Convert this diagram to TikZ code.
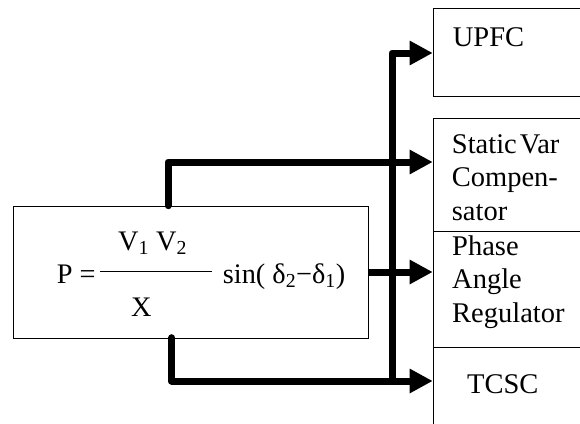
\documentclass[tikz,border=0pt]{standalone}
\usepackage{fontspec}
\setmainfont{Liberation Serif}
\usetikzlibrary{arrows.meta}
\tikzset{
  box/.style={draw, line width=1.1pt, rectangle, inner sep=0pt, anchor=north west},
  lbl/.style={inner sep=0pt, anchor=base west, align=left, font=\fontsize{28.5}{33.3}\selectfont},
  ftxt/.style={inner sep=0pt, anchor=base west, font=\fontsize{28.3}{33}\selectfont},
  bus/.style={line width=7pt, line cap=round, line join=round},
  feed/.style={bus, -{Triangle[length=23pt,width=23pt]}},
}
\begin{document}
\begin{tikzpicture}[x=1pt,y=-1pt]
\clip (0,0) rectangle (580,423);
\useasboundingbox (0,0) rectangle (580,423);
% formula box
\node[box, minimum width=355pt, minimum height=132pt] (form) at (12.7,205.7) {};
\node[ftxt] (peq) at (56.7,283.3) {P =};
\node[ftxt] (num) at (118,250) {V\textsubscript{1} V\textsubscript{2}};
\node[ftxt] (den) at (131,316.7) {X};
\node[ftxt] (sin) at (222.7,283.3) {sin( δ\textsubscript{2}−δ\textsubscript{1})};
\coordinate (fl) at (100,271.7);
\coordinate (fr) at (212,271.7);
\draw[line width=1.3pt] (fl) -- (fr);
% right boxes
\node[box, minimum width=170pt, minimum height=87.4pt] (upfc) at (432.7,8.3) {};
\node[box, minimum width=170pt, minimum height=113pt] (svc) at (432.7,118) {};
\node[box, minimum width=170pt, minimum height=116pt] (par) at (432.7,231) {};
\node[box, minimum width=170pt, minimum height=100pt] (tcsc) at (432.7,347) {};
\node[lbl] (tupfc) at (452.7,46.7) {UPFC};
\node[lbl] (tsvc) at (451.7,220) {Static\hspace{3pt}Var\\Compen-\\sator};
\node[lbl] (tpar) at (452,322) {Phase\\Angle\\Regulator};
\node[lbl] (ttcsc) at (467,393) {TCSC};
% connectors
\coordinate (ftop) at (168,205.7);
\coordinate (ftopc) at (168,162);
\coordinate (svcin) at (432.7,162);
\coordinate (fbot) at (171.7,337.7);
\coordinate (fbotc) at (171.7,381);
\coordinate (tcscin) at (432.7,381);
\coordinate (fright) at (367.7,272);
\coordinate (parin) at (432.7,272);
\coordinate (busbot) at (392,381);
\coordinate (bustop) at (392,53);
\coordinate (upfcin) at (432.7,53);
\draw[feed] (ftop) -- (ftopc) -- (svcin);
\draw[feed] (fbot) -- (fbotc) -- (tcscin);
\draw[feed, line cap=butt] (fright) -- (parin);
\draw[feed] (busbot) -- (bustop) -- (upfcin);
\end{tikzpicture}
\end{document}
